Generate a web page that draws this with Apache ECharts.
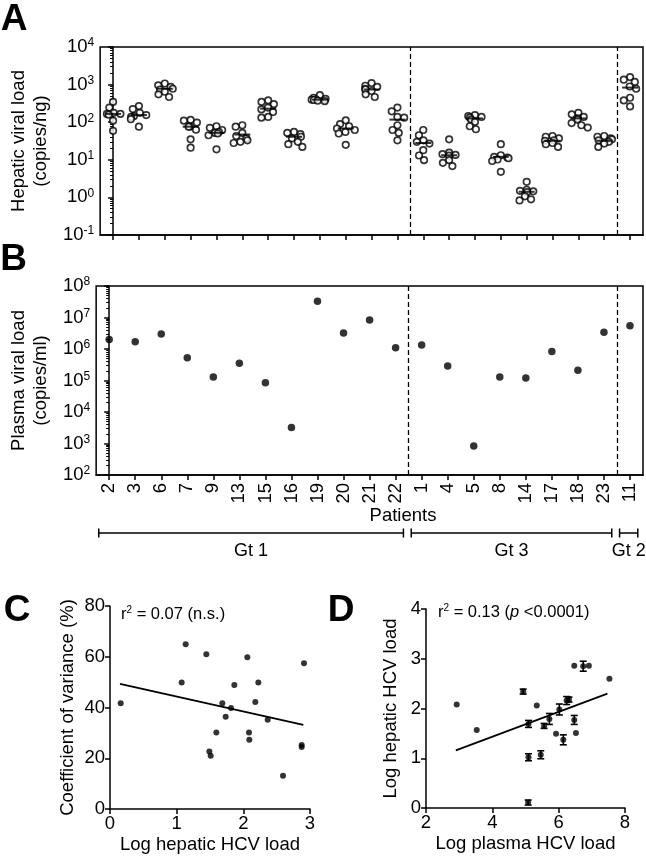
<!DOCTYPE html>
<html><head><meta charset="utf-8">
<script src="https://cdn.jsdelivr.net/npm/echarts@6/dist/echarts.min.js"></script>
<style>html,body{margin:0;padding:0;background:#fff}#c{width:646px;height:859px}</style>
</head><body><div id="c"></div>
<script>
// ---------- data ----------
const patients = ['2','3','6','7','9','13','15','16','19','20','21','22','1','4','5','8','14','17','18','23','11'];
const genotypeNames = ['Gt 1', 'Gt 3', 'Gt 2'];
const genotypeFirst = [0, 12, 20];
const genotypeLast = [11, 19, 20];

// Panel A: hepatic viral load (copies/ng), replicate biopsies per patient
const hepaticLoad = [
  [347,245,178,166,166,158,110,59],
  [269,224,178,155,145,138,120,76],
  [1070,955,871,776,741,646,550,468],
  [115,110,98,76,76,63,35,21],
  [78,71,62,55,52,50,45,19],
  [83,76,52,43,37,33,30,28],
  [380,347,302,245,219,186,138,132],
  [55,52,48,41,37,30,26,22],
  [525,447,417,407,398,389,372,363],
  [112,89,78,68,62,55,50,25],
  [1100,933,871,776,741,676,550,468],
  [245,195,138,132,83,62,52,33],
  [62,45,33,30,27,18,13,9.8],
  [35,15.5,14.1,13.5,12.9,9.8,8.3,6.8],
  [155,145,138,132,117,102,78,65],
  [26,13.2,12,11.5,11,10.2,9.3,4.8],
  [2.6,1.6,1.5,1.45,1.38,1.07,0.89,0.83],
  [43,41,37,33,32,28,26,22],
  [178,162,138,126,117,95,83,72],
  [43,41,37,35,33,30,27,22],
  [1585,1350,1175,891,776,447,380,263]
];
const hepaticMedian = [166,155,776,76,52,47,229,41,398,68,741,117,28,13.2,126,12,1.41,32,126,32,832];

// Panel B: plasma viral load (copies/ml)
const plasmaLoad = [2.0e6,1.7e6,3.0e6,5.3e5,1.3e5,3.5e5,8.5e4,3.2e3,3.3e7,3.2e6,8.3e6,1.1e6,1.35e6,2.9e5,830,1.3e5,1.2e5,8.3e5,2.1e5,3.4e6,5.5e6];

// Panel C
const cLogHepatic = [0.16,1.075,1.135,1.445,1.49,1.51,1.595,1.685,1.735,1.815,1.865,2.06,2.085,2.09,2.18,2.225,2.365,2.595,2.875,2.875,2.91];
const cCoefVar = [41.7,49.9,64.9,61,22.7,21,30.1,41.7,36.4,39.8,48.9,59.8,30.1,27.3,42.2,49.9,35.2,13.1,25.2,24.4,57.4];
const cFit = [[0.15,49.3],[2.9,33.2]];

// Panel D
const dLogPlasma = [2.925,3.53,4.93,5.08,5.09,5.09,5.34,5.46,5.56,5.72,5.92,6.02,6.14,6.24,6.31,6.47,6.47,6.52,6.74,6.91,7.53];
const dLogHepatic = [2.08,1.57,2.34,0.11,1.69,1.02,2.06,1.07,1.65,1.79,1.49,1.98,1.37,2.16,2.18,2.86,1.77,1.51,2.85,2.86,2.60];
const dSem = [0,0,0.05,0.05,0.07,0.07,0,0.08,0.05,0.11,0,0.11,0.10,0.08,0.05,0,0.09,0,0.10,0,0];
const dFit = [[2.90,1.16],[7.47,2.30]];

// ---------- chart ----------
const FONT = 'Liberation Sans, Arial, Helvetica, sans-serif';
const FS = 18.5;
const chart = echarts.init(document.getElementById('c'), null, {renderer: 'canvas'});

function powLabel(v) { const e = Math.round(Math.log10(v)); return '{b|10}{s|' + e + '}'; }
const powRich = {
  b: {fontSize: FS, fontFamily: FONT, color: '#000', lineHeight: 20},
  s: {fontSize: 12, fontFamily: FONT, color: '#000', lineHeight: 10, verticalAlign: 'top'}
};
const axLine = {show: true, lineStyle: {color: '#000', width: 1.5}};
const axTick = {show: true, length: 5, lineStyle: {color: '#000', width: 1.5}};
const axLabel = {color: '#000', fontSize: FS, fontFamily: FONT};
const nameStyle = {color: '#000', fontSize: FS, fontFamily: FONT, lineHeight: 22};

const scatterA = [];
hepaticLoad.forEach((arr, i) => arr.forEach(v => scatterA.push([i, v])));
const boundaries = genotypeLast.slice(0, 2).map(v => ({xAxis: v + 0.5}));
const dashed = {silent: true, symbol: ['none', 'none'], label: {show: false},
  lineStyle: {type: [5, 3], color: '#000', width: 1.3}, data: boundaries};

const option = {
  animation: false,
  backgroundColor: '#fff',
  textStyle: {fontFamily: FONT},
  grid: [
    {left: 92, top: 47, width: 551, height: 188, show: true, borderColor: '#000', borderWidth: 1.5, containLabel: false},
    {left: 92, top: 286, width: 551, height: 189, show: true, borderColor: '#000', borderWidth: 1.5, containLabel: false},
    {left: 110, top: 606, width: 200, height: 203, containLabel: false},
    {left: 426, top: 609, width: 199, height: 199, containLabel: false}
  ],
  xAxis: [
    {gridIndex: 0, type: 'category', data: patients, boundaryGap: true, jitter: 20, jitterOverlap: false, jitterMargin: 0.3,
     axisLine: axLine, axisTick: Object.assign({alignWithLabel: true, interval: 0}, axTick), axisLabel: {show: false}, splitLine: {show: false}},
    {gridIndex: 0, type: 'value', min: -0.5, max: 20.5, show: false},
    {gridIndex: 1, type: 'category', data: patients, boundaryGap: true,
     axisLine: axLine, axisTick: Object.assign({alignWithLabel: true, interval: 0}, axTick),
     axisLabel: Object.assign({rotate: 90, interval: 0, margin: 8}, axLabel), splitLine: {show: false}},
    {gridIndex: 1, type: 'value', min: -0.5, max: 20.5, show: false},
    {gridIndex: 2, type: 'value', min: 0, max: 3, interval: 1, axisLine: axLine, axisTick: axTick,
     axisLabel: Object.assign({margin: 5}, axLabel), splitLine: {show: false},
     name: 'Log hepatic HCV load', nameLocation: 'middle', nameGap: 21, nameTextStyle: nameStyle},
    {gridIndex: 3, type: 'value', min: 2, max: 8, interval: 2, axisLine: axLine, axisTick: axTick,
     axisLabel: Object.assign({margin: 5}, axLabel), splitLine: {show: false},
     name: 'Log plasma HCV load', nameLocation: 'middle', nameGap: 21, nameTextStyle: nameStyle}
  ],
  yAxis: [
    {gridIndex: 0, type: 'log', logBase: 10, min: 0.1, max: 10000, splitNumber: 5,
     axisLine: axLine, axisTick: axTick, minorTick: {show: true, splitNumber: 9, length: 3, lineStyle: {color: '#000', width: 1}},
     axisLabel: {formatter: powLabel, rich: powRich, margin: 6}, splitLine: {show: false}, minorSplitLine: {show: false},
     name: 'Hepatic viral load\n(copies/ng)', nameLocation: 'middle', nameGap: 42, nameTextStyle: nameStyle},
    {gridIndex: 1, type: 'log', logBase: 10, min: 100, max: 1e8, splitNumber: 6,
     axisLine: axLine, axisTick: axTick, minorTick: {show: true, splitNumber: 9, length: 3, lineStyle: {color: '#000', width: 1}},
     axisLabel: {formatter: powLabel, rich: powRich, margin: 6}, splitLine: {show: false}, minorSplitLine: {show: false},
     name: 'Plasma viral load\n(copies/ml)', nameLocation: 'middle', nameGap: 42, nameTextStyle: nameStyle},
    {gridIndex: 2, type: 'value', min: 0, max: 80, interval: 20, axisLine: axLine, axisTick: axTick,
     axisLabel: Object.assign({margin: 5}, axLabel), splitLine: {show: false},
     name: 'Coefficient of variance (%)', nameLocation: 'middle', nameGap: 31, nameTextStyle: nameStyle},
    {gridIndex: 3, type: 'value', min: 0, max: 4, interval: 1, axisLine: axLine, axisTick: axTick,
     axisLabel: Object.assign({margin: 5}, axLabel), splitLine: {show: false},
     name: 'Log hepatic HCV load', nameLocation: 'middle', nameGap: 24, nameTextStyle: nameStyle}
  ],
  series: [
    {type: 'scatter', xAxisIndex: 0, yAxisIndex: 0, data: scatterA, symbol: 'circle', symbolSize: 6.5,
     itemStyle: {color: '#fff', borderColor: '#000', borderWidth: 1.7}, z: 3},
    {type: 'scatter', xAxisIndex: 1, yAxisIndex: 0, data: hepaticMedian.map((m, i) => [i, m]), symbol: 'rect', symbolSize: [16, 2],
     itemStyle: {color: '#000'}, z: 4, markLine: dashed},
    {type: 'scatter', xAxisIndex: 2, yAxisIndex: 1, data: plasmaLoad.map((v, i) => [i, v]), symbol: 'circle', symbolSize: 7.5,
     itemStyle: {color: '#000'}},
    {type: 'scatter', xAxisIndex: 3, yAxisIndex: 1, data: [], markLine: dashed},
    {type: 'scatter', xAxisIndex: 4, yAxisIndex: 2, data: cLogHepatic.map((x, i) => [x, cCoefVar[i]]), symbolSize: 6,
     itemStyle: {color: '#000'}},
    {type: 'line', xAxisIndex: 4, yAxisIndex: 2, data: cFit, showSymbol: false, lineStyle: {color: '#000', width: 1.8}},
    {type: 'custom', xAxisIndex: 5, yAxisIndex: 3, data: dLogPlasma.map((x, i) => [x, dLogHepatic[i], dSem[i]]),
     renderItem: function (params, api) {
       const x = api.value(0), y = api.value(1), e = api.value(2);
       if (!(e > 0)) return null;
       const t = api.coord([x, y + e]), b = api.coord([x, y - e]);
       const hw = 3.5, st = {stroke: '#000', lineWidth: 1.6};
       return {type: 'group', children: [
         {type: 'line', shape: {x1: t[0], y1: t[1], x2: b[0], y2: b[1]}, style: st},
         {type: 'line', shape: {x1: t[0] - hw, y1: t[1], x2: t[0] + hw, y2: t[1]}, style: st},
         {type: 'line', shape: {x1: b[0] - hw, y1: b[1], x2: b[0] + hw, y2: b[1]}, style: st}
       ]};
     }, z: 2},
    {type: 'scatter', xAxisIndex: 5, yAxisIndex: 3, data: dLogPlasma.map((x, i) => [x, dLogHepatic[i]]), symbolSize: 6,
     itemStyle: {color: '#000'}, z: 3},
    {type: 'line', xAxisIndex: 5, yAxisIndex: 3, data: dFit, showSymbol: false, lineStyle: {color: '#000', width: 1.8}}
  ]
};
chart.setOption(option);

// ---------- annotations (positions derived from axes) ----------
const g = [];
function letter(t, x, y) {
  g.push({type: 'text', x: x, y: y, style: {text: t, font: 'bold 37px ' + FONT, fill: '#000', textAlign: 'center', textVerticalAlign: 'middle'}});
}
letter('A', 14, 20); letter('B', 13.5, 260); letter('C', 17, 611); letter('D', 341, 611);

const bracketY = 533;
genotypeNames.forEach((name, k) => {
  const x1 = chart.convertToPixel({xAxisIndex: 3}, genotypeFirst[k] - 0.4);
  const x2 = chart.convertToPixel({xAxisIndex: 3}, genotypeLast[k] + 0.3);
  const st = {stroke: '#000', lineWidth: 1.5};
  g.push({type: 'line', shape: {x1: x1, y1: bracketY, x2: x2, y2: bracketY}, style: st});
  g.push({type: 'line', shape: {x1: x1, y1: bracketY - 4.5, x2: x1, y2: bracketY + 4.5}, style: st});
  g.push({type: 'line', shape: {x1: x2, y1: bracketY - 4.5, x2: x2, y2: bracketY + 4.5}, style: st});
  g.push({type: 'text', x: (x1 + x2) / 2, y: 551, style: {text: name, font: '18px ' + FONT, fill: '#000', textAlign: 'center', textVerticalAlign: 'middle'}});
});
g.push({type: 'text', x: 403, y: 516, style: {text: 'Patients', font: FS + 'px ' + FONT, fill: '#000', textAlign: 'center', textVerticalAlign: 'middle'}});

const rtxt = {t: {fontSize: 16.5, fontFamily: FONT, fill: '#000', lineHeight: 18},
  sup: {fontSize: 10, fontFamily: FONT, fill: '#000', lineHeight: 10, verticalAlign: 'top'},
  i: {fontSize: 16.5, fontFamily: FONT, fontStyle: 'italic', fill: '#000', lineHeight: 18}};
g.push({type: 'text', x: 121, y: 614, style: {text: '{t|r}{sup|2}{t| = 0.07 (n.s.)}', rich: rtxt, textVerticalAlign: 'middle'}});
g.push({type: 'text', x: 438, y: 612, style: {text: '{t|r}{sup|2}{t| = 0.13 (}{i|p}{t| <0.0001)}', rich: rtxt, textVerticalAlign: 'middle'}});

chart.setOption({graphic: g});
</script></body></html>
